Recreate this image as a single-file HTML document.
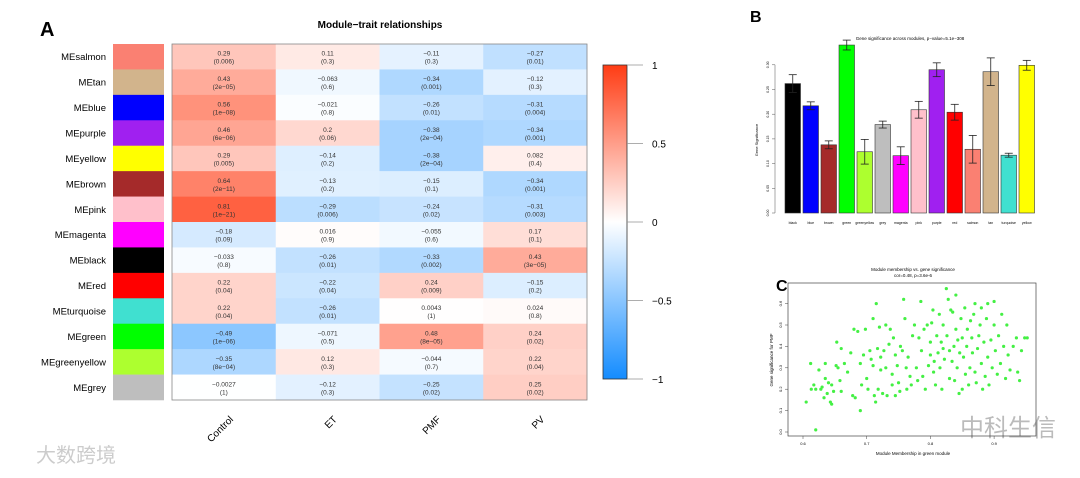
<!DOCTYPE html>
<html><head><meta charset="utf-8"><style>
body{margin:0;background:#fff;width:1080px;height:473px;overflow:hidden}
svg{font-family:"Liberation Sans","Noto Sans CJK SC",sans-serif}
</style></head><body>
<svg id="s" width="1080" height="473" viewBox="0 0 1080 473">
<text x="40" y="36" font-size="20" font-weight="bold">A</text>
<text x="380" y="28" font-size="10" font-weight="bold" text-anchor="middle">Module−trait relationships</text>
<text x="750" y="22" font-size="16" font-weight="bold">B</text>
<text x="910" y="40" font-size="4.5" text-anchor="middle">Gene significance across modules, p−value=5.1e−308</text>
<text x="776" y="291" font-size="16" font-weight="bold">C</text>
<text x="913" y="271" font-size="4.5" text-anchor="middle">Module membership vs. gene significance</text>
<text x="913" y="277" font-size="4.5" text-anchor="middle">cor=0.48, p=3.6e-6</text>
<text x="36" y="462" font-size="20" fill="#ccc">大数跨境</text>
<text x="960" y="436" font-size="24" fill="#bbb">中科生信</text>
</svg>
<script>
var NS="http://www.w3.org/2000/svg",S=document.getElementById('s');
function mk(t,a,p){var e=document.createElementNS(NS,t);for(var k in a)e.setAttribute(k,a[k]);(p||S).appendChild(e);return e;}
var modules=["MEsalmon","MEtan","MEblue","MEpurple","MEyellow","MEbrown","MEpink","MEmagenta","MEblack","MEred","MEturquoise","MEgreen","MEgreenyellow","MEgrey"];
var swatches=["#fa8072","#d2b48c","#0000ff","#a020f0","#ffff00","#a52a2a","#ffc0cb","#ff00ff","#000000","#ff0000","#40e0d0","#00ff00","#adff2f","#bebebe"];
var traits=["Control","ET","PMF","PV"];
var corr=[[0.29,0.11,-0.11,-0.27],[0.43,-0.063,-0.34,-0.12],[0.56,-0.021,-0.26,-0.31],[0.46,0.2,-0.38,-0.34],[0.29,-0.14,-0.38,0.082],[0.64,-0.13,-0.15,-0.34],[0.81,-0.29,-0.24,-0.31],[-0.18,0.016,-0.055,0.17],[-0.033,-0.26,-0.33,0.43],[0.22,-0.22,0.24,-0.15],[0.22,-0.26,0.0043,0.024],[-0.49,-0.071,0.48,0.24],[-0.35,0.12,-0.044,0.22],[-0.0027,-0.12,-0.25,0.25]];
var pvals=[["0.006","0.3","0.3","0.01"],["2e−05","0.6","0.001","0.3"],["1e−08","0.8","0.01","0.004"],["6e−06","0.06","2e−04","0.001"],["0.005","0.2","2e−04","0.4"],["2e−11","0.2","0.1","0.001"],["1e−21","0.006","0.02","0.003"],["0.09","0.9","0.6","0.1"],["0.8","0.01","0.002","3e−05"],["0.04","0.04","0.009","0.2"],["0.04","0.01","1","0.8"],["1e−06","0.5","8e−05","0.02"],["8e−04","0.3","0.7","0.04"],["1","0.3","0.02","0.02"]];
var colorTicks=[1,0.5,0,-0.5,-1];
function col(v){var r,g,b;if(v>=0){r=255;g=255-v*195;b=255-v*235;}else{var a=-v;r=255-a*235;g=255-a*115;b=255;}return 'rgb('+Math.round(r)+','+Math.round(g)+','+Math.round(b)+')';}
var HX=172,HY=44,HW=415,HH=356,cw=HW/traits.length,rh=HH/modules.length;
function fmt(v){return String(v).replace('-','−');}
modules.forEach(function(m,i){
  var y=HY+i*rh;
  var t=mk('text',{x:106,y:y+rh/2+3.5,'font-size':9.5,'text-anchor':'end'});t.textContent=m;
  
  
  var sw=mk('rect',{x:113,y:y,width:51,height:rh+0.3,fill:swatches[i]});
  
  
  traits.forEach(function(tr,j){
    var x=HX+j*cw,v=corr[i][j];
    var c=mk('rect',{x:x,y:y,width:cw+0.3,height:rh+0.3,fill:col(v)});
    
    
    var a=mk('text',{x:x+cw/2,y:y+rh/2-1,'font-size':6.5,'text-anchor':'middle',fill:'#333'});a.textContent=fmt(v);
    
    
    var b=mk('text',{x:x+cw/2,y:y+rh/2+7,'font-size':6.5,'text-anchor':'middle',fill:'#333'});b.textContent='('+pvals[i][j]+')';
    
    
  });
});
var hb=mk('rect',{x:HX,y:HY,width:HW,height:HH,fill:'none',stroke:'#888','stroke-width':0.8});


traits.forEach(function(tr,j){
  var cx=HX+(j+0.5)*cw+10,cy=420;
  var t=mk('text',{x:cx,y:cy,'font-size':10,'text-anchor':'end',transform:'rotate(-45 '+cx+' '+cy+')'});t.textContent=tr;
  
  
});
var CBX=603,CBY=65,CBW=24,CBH=314;
var defs=mk('defs',{}),lg=mk('linearGradient',{id:'cg',x1:0,y1:0,x2:0,y2:1},defs);
for(var k=0;k<=10;k++){mk('stop',{offset:k/10,'stop-color':col(1-k/5)},lg);}
var cb=mk('rect',{x:CBX,y:CBY,width:CBW,height:CBH,fill:'url(#cg)',stroke:'#333','stroke-width':0.8});


colorTicks.forEach(function(v){
  var y=CBY+(1-v)/2*CBH;
  mk('line',{x1:CBX+CBW,x2:CBX+CBW+16,y1:y,y2:y,stroke:'#999','stroke-width':0.8});
  var t=mk('text',{x:652,y:y+4,'font-size':10});t.textContent=fmt(v);
  
  
});
var barCats=["black","blue","brown","green","greenyellow","grey","magenta","pink","purple","red","salmon","tan","turquoise","yellow"];
var barColors=["#000000","#0000ff","#a52a2a","#00ff00","#adff2f","#bebebe","#ff00ff","#ffc0cb","#a020f0","#ff0000","#fa8072","#d2b48c","#40e0d0","#ffff00"];
var barVals=[0.262,0.217,0.138,0.340,0.124,0.179,0.116,0.209,0.290,0.204,0.129,0.286,0.117,0.299];
var barErr=[0.018,0.008,0.008,0.010,0.025,0.007,0.018,0.017,0.014,0.016,0.028,0.028,0.004,0.010];
var barTicks=[0,0.05,0.10,0.15,0.20,0.25,0.30];
function by(v){return 213-v/0.05*24.7;}
var BX0=785,BS=18,BW=15.5;
barTicks.forEach(function(v){
  var y=by(v);mk('line',{x1:772,x2:775,y1:y,y2:y,stroke:'#555','stroke-width':0.5});
  var t=mk('text',{x:769,y:y,'font-size':3.5,'text-anchor':'middle',transform:'rotate(-90 769 '+y+')'});t.textContent=v.toFixed(2);
  
  
});
mk('line',{x1:775,x2:775,y1:by(0),y2:by(0.3),stroke:'#555','stroke-width':0.5});
var yl=mk('text',{x:758,y:140,'font-size':4,'text-anchor':'middle',transform:'rotate(-90 758 140)'});yl.textContent='Gene Significance';


barCats.forEach(function(c,i){
  var x=BX0+i*BS,v=barVals[i],e=barErr[i];
  var r=mk('rect',{x:x,y:by(v),width:BW,height:by(0)-by(v),fill:barColors[i],stroke:'#333','stroke-width':0.6});
  
  
  var m=x+BW/2;
  mk('line',{x1:m,x2:m,y1:by(v-e),y2:by(v+e),stroke:'#222','stroke-width':0.8});
  mk('line',{x1:m-4,x2:m+4,y1:by(v-e),y2:by(v-e),stroke:'#222','stroke-width':0.8});
  mk('line',{x1:m-4,x2:m+4,y1:by(v+e),y2:by(v+e),stroke:'#222','stroke-width':0.8});
  var t=mk('text',{x:m,y:224,'font-size':3.5,'text-anchor':'middle'});t.textContent=c;
  
  
});
var mmX=[0.605,0.612,0.613,0.617,0.62,0.62,0.625,0.628,0.63,0.633,0.635,0.635,0.638,0.64,0.643,0.645,0.645,0.648,0.652,0.653,0.655,0.658,0.66,0.66,0.665,0.67,0.675,0.678,0.68,0.682,0.686,0.69,0.69,0.692,0.695,0.698,0.7,0.702,0.705,0.707,0.71,0.71,0.712,0.714,0.715,0.717,0.718,0.72,0.722,0.722,0.725,0.727,0.73,0.73,0.732,0.735,0.737,0.74,0.74,0.742,0.745,0.745,0.748,0.75,0.752,0.753,0.756,0.758,0.76,0.762,0.763,0.765,0.768,0.77,0.772,0.775,0.778,0.78,0.782,0.785,0.786,0.788,0.79,0.792,0.795,0.797,0.8,0.8,0.802,0.804,0.805,0.806,0.808,0.81,0.812,0.814,0.815,0.817,0.818,0.82,0.82,0.822,0.825,0.826,0.828,0.83,0.83,0.832,0.834,0.835,0.837,0.838,0.84,0.84,0.842,0.843,0.845,0.846,0.848,0.85,0.85,0.852,0.854,0.855,0.857,0.858,0.86,0.862,0.863,0.865,0.866,0.868,0.87,0.87,0.872,0.874,0.876,0.878,0.88,0.88,0.882,0.884,0.886,0.888,0.89,0.89,0.892,0.895,0.897,0.9,0.9,0.902,0.905,0.907,0.91,0.912,0.915,0.918,0.92,0.922,0.925,0.93,0.935,0.937,0.94,0.943,0.948,0.952];
var gsY=[0.14,0.32,0.2,0.22,0.2,0.01,0.29,0.2,0.21,0.16,0.32,0.25,0.18,0.23,0.14,0.13,0.22,0.19,0.31,0.42,0.3,0.24,0.39,0.19,0.32,0.28,0.37,0.17,0.48,0.16,0.47,0.1,0.32,0.22,0.36,0.48,0.25,0.2,0.38,0.34,0.53,0.31,0.17,0.14,0.6,0.39,0.2,0.49,0.35,0.29,0.18,0.38,0.5,0.3,0.17,0.41,0.48,0.27,0.22,0.44,0.36,0.17,0.31,0.23,0.19,0.4,0.38,0.62,0.53,0.3,0.2,0.35,0.26,0.22,0.45,0.5,0.3,0.24,0.44,0.61,0.38,0.26,0.48,0.2,0.5,0.31,0.42,0.36,0.51,0.57,0.28,0.33,0.22,0.45,0.37,0.55,0.3,0.42,0.2,0.39,0.5,0.34,0.67,0.45,0.62,0.38,0.25,0.57,0.33,0.56,0.4,0.24,0.48,0.64,0.3,0.43,0.18,0.37,0.53,0.44,0.2,0.35,0.58,0.27,0.4,0.48,0.22,0.3,0.52,0.44,0.37,0.55,0.6,0.28,0.23,0.39,0.45,0.5,0.32,0.58,0.2,0.42,0.26,0.53,0.6,0.35,0.22,0.43,0.3,0.61,0.5,0.38,0.27,0.45,0.32,0.55,0.4,0.25,0.5,0.36,0.29,0.4,0.44,0.28,0.24,0.38,0.44,0.44];
var sxTicks=[0.6,0.7,0.8,0.9],syTicks=[0,0.1,0.2,0.3,0.4,0.5,0.6];
function sx(v){return 803+(v-0.6)/0.1*63.7;}
function sy(v){return 432-v/0.1*21.4;}
var pb=mk('rect',{x:788,y:283,width:248,height:153,fill:'none',stroke:'#444','stroke-width':0.7});


sxTicks.forEach(function(v){var x=sx(v);mk('line',{x1:x,x2:x,y1:436,y2:439,stroke:'#444','stroke-width':0.5});
  var t=mk('text',{x:x,y:445,'font-size':4,'text-anchor':'middle'});t.textContent=v.toFixed(1);
  
  });
syTicks.forEach(function(v){var y=sy(v);mk('line',{x1:785,x2:788,y1:y,y2:y,stroke:'#444','stroke-width':0.5});
  var t=mk('text',{x:782,y:y,'font-size':4,'text-anchor':'middle',transform:'rotate(-90 782 '+y+')'});t.textContent=v.toFixed(1);
  
  });
var xt=mk('text',{x:913,y:455,'font-size':4.5,'text-anchor':'middle'});xt.textContent='Module Membership in green module';


var yt=mk('text',{x:773,y:360,'font-size':4.5,'text-anchor':'middle',transform:'rotate(-90 773 360)'});yt.textContent='Gene significance for PMF';


mmX.forEach(function(v,i){
  var p=mk('circle',{cx:sx(v),cy:sy(gsY[i]),r:1.6,fill:'#44f044'});
  
  
});
</script>
</body></html>
